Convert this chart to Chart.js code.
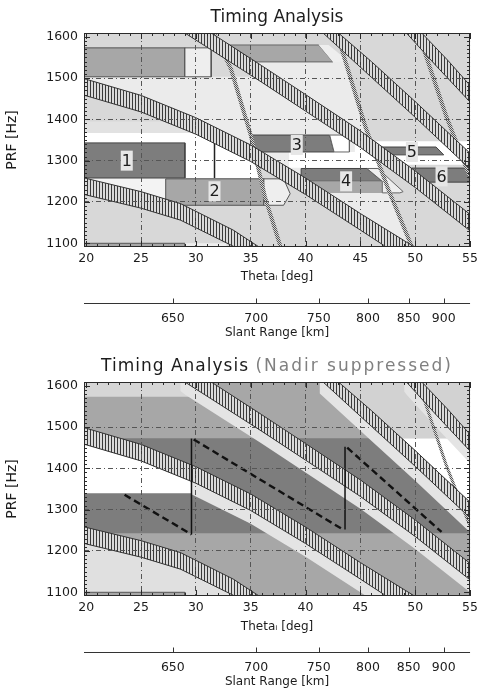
<!DOCTYPE html>
<html>
<head>
<meta charset="utf-8">
<script src="https://cdn.jsdelivr.net/npm/chart.js@4.4.0/dist/chart.umd.min.js"></script>
<style>
  html, body { margin: 0; padding: 0; background: #fff; }
  #wrapTop { position: absolute; left: 0; top: 0; width: 482px; height: 345px; }
  #wrapBot { position: absolute; left: 0; top: 344px; width: 482px; height: 345px; }
</style>
</head>
<body>
<div id="wrapTop"><canvas id="top"></canvas></div>
<div id="wrapBot"><canvas id="bot"></canvas></div>
<script>
'use strict';

/*** AXES ***/

var thetaTicks = [20, 25, 30, 35, 40, 45, 50, 55];
var prfTicks = [1100, 1200, 1300, 1400, 1500, 1600];
var slantTheta = [27.9, 35.5, 41.2, 45.7, 49.4, 52.6];
var slantLabels = ['650', '700', '750', '800', '850', '900'];

/*** TRANSMIT BANDS [theta, PRF] ***/

var bandAUp = [[19, 1265], [20, 1257], [25, 1225], [28.6, 1196], [33.4, 1132], [36.4, 1080]];
var bandALo = [[19, 1225], [20, 1217], [25, 1185], [28.6, 1156], [33.4, 1093], [34.2, 1080]];
var bandBUp = [[19, 1503], [20, 1497], [25, 1458], [30, 1404], [35, 1338], [40, 1258], [45, 1172], [50.6, 1080]];
var bandBLo = [[19, 1463], [20, 1457], [25, 1418], [30, 1364], [35, 1298], [40, 1218], [45, 1132], [48, 1080]];
var bandCUp = [[31.0, 1617], [31.4, 1609], [36, 1530], [40, 1460], [45, 1372], [50, 1275], [55, 1170], [56, 1148]];
var bandCLo = [[28.6, 1617], [29.0, 1609], [36, 1490], [40, 1420], [45, 1332], [50, 1235], [55, 1130], [56, 1108]];
var bandDUp = [[42.7, 1616], [43.0, 1609], [46, 1540], [50, 1443], [55, 1318], [56, 1292]];
var bandDLo = [[41.3, 1616], [41.6, 1609], [46, 1502], [50, 1405], [55, 1280], [56, 1254]];
var bandEUp = [[50.4, 1616], [50.6, 1609], [53, 1542], [55, 1482], [56, 1450]];
var bandELo = [[49.0, 1616], [49.2, 1609], [52, 1527], [55, 1442], [56, 1412]];

/*** NADIR LINES ***/

var nadir1 = [[31.3, 1625], [31.8, 1600], [33.2, 1522], [35.0, 1362], [36.3, 1212], [37.8, 1085]];
var nadir2 = [[42.9, 1612], [43.4, 1561], [45.5, 1379], [47.5, 1234], [49.7, 1091], [49.8, 1085]];
var nadir3 = [[50.4, 1616], [50.9, 1560], [52.8, 1410], [54.7, 1280], [55.2, 1250]];

/*** TOP PANEL REGIONS ***/

var topLighter = [[19, 1395], [28, 1395], [31, 1367], [19, 1367]];
var topVeryLight1 = [[19, 1503], [20, 1497], [25, 1458], [30, 1404], [35, 1338], [40, 1258], [45, 1172], [49.8, 1085],
  [47.5, 1234], [46.6, 1299], [45, 1332], [40, 1420], [36, 1490], [35.2, 1503]];
var topVeryLight2 = [[35.4, 1539], [36, 1530], [40, 1460], [45, 1372], [45.9, 1354], [45.5, 1379], [43.65, 1539]];
var topWhiteStrip = [[19, 1367], [31, 1367], [33, 1343], [19, 1343]];
var topWhiteBeside1 = [[29.0, 1343], [33.3, 1343], [35.3, 1300], [35.8, 1258], [29.0, 1258]];
var topWhiteAbove2 = [[19, 1258], [27.25, 1258], [27.25, 1205], [25, 1225], [20, 1257], [19, 1265]];
var topWhiteMid = [[38.5, 1321], [47, 1321], [47, 1283], [38.5, 1283]];
var topWhiteRight = [[44.5, 1347], [56, 1347], [56, 1290], [44.5, 1290]];

var boxTopLeft = [[19, 1573], [29.0, 1573], [29.0, 1503], [19, 1503]];
var boxTopLeftExt = [[29.0, 1573], [31.4, 1573], [31.4, 1503], [29.0, 1503]];
var boxTopMid = [[32.5, 1580], [41.2, 1580], [42.5, 1539], [34.5, 1539]];
var boxTopMidExt = [[41.2, 1580], [42.1, 1580], [44.0, 1539], [42.5, 1539]];
var box1 = [[19, 1343], [29.0, 1343], [29.0, 1258], [19, 1258]];
var box1Divider = [[31.7, 1343], [31.7, 1258]];
var box2 = [[27.25, 1256], [36.2, 1256], [36.2, 1192], [27.25, 1192]];
var box2Ext = [[36.2, 1256], [38.0, 1256], [38.6, 1220], [38.0, 1192], [36.2, 1192]];
var box3 = [[35.0, 1362], [42.2, 1362], [42.6, 1321], [35.3, 1321]];
var box3Ext = [[42.2, 1362], [44.0, 1362], [44.0, 1321], [42.6, 1321]];
var box4Dark = [[39.6, 1281], [45.6, 1281], [47.0, 1250], [39.6, 1250]];
var box4Mid = [[39.6, 1250], [47.0, 1250], [47.0, 1222], [39.6, 1222]];
var box4Ext = [[45.6, 1281], [46.6, 1281], [48.9, 1225], [48.6, 1222], [47.0, 1222], [47.0, 1250]];
var box5 = [[46.4, 1333], [51.9, 1333], [52.6, 1314], [46.4, 1314]];
var box6 = [[49.7, 1282], [56, 1282], [56, 1248], [49.7, 1248]];
var stripBottom = [[19, 1100], [29.0, 1100], [29.0, 1085], [19, 1085]];
var stripBottomExt = [[29.0, 1100], [32.8, 1100], [32.8, 1085], [29.0, 1085]];

var beamLabels = ['1', '2', '3', '4', '5', '6'];
var beamLabelTheta = [23.7, 31.7, 39.2, 43.7, 49.7, 52.4];
var beamLabelPrf = [1300, 1226, 1338, 1250, 1321, 1262];

/*** BOTTOM PANEL REGIONS ***/

var botLightBelowA = [[19, 1225], [20, 1217], [25, 1185], [28.6, 1156], [33.4, 1093], [34.2, 1080], [19, 1080]];
var botLightTopLeft = [[19, 1620], [29.6, 1620], [29.6, 1573], [19, 1573]];
var botDark = [[19, 1473], [56, 1473], [56, 1243], [19, 1243]];
var botLightTopRight = [[42.7, 1620], [43.0, 1609], [46, 1540], [48.8, 1473], [56, 1473], [56, 1620]];
var botWhiteLeft = [[19, 1463], [20, 1457], [25, 1418], [29.6, 1369], [29.6, 1340], [19, 1340]];
var botWhiteRight = [[48.8, 1473], [50, 1443], [55, 1318], [56, 1292], [56, 1473]];
var stripBelowB = [[29.6, 1369], [30, 1364], [35, 1298], [40, 1218], [45, 1132], [48, 1080],
  [48, 1048], [45, 1100], [40, 1186], [35, 1266], [30, 1332], [29.6, 1337]];
var stripBelowC = [[28.6, 1617], [29.0, 1609], [36, 1490], [40, 1420], [45, 1332], [50, 1235], [55, 1130], [56, 1108],
  [56, 1078], [55, 1100], [50, 1205], [45, 1302], [40, 1390], [36, 1460], [29.0, 1579], [28.6, 1587]];
var stripBelowD = [[41.3, 1616], [41.6, 1609], [46, 1502], [50, 1405], [55, 1280], [56, 1254],
  [56, 1219], [55, 1245], [50, 1370], [46, 1467], [41.6, 1574], [41.3, 1581]];
var stripBelowE = [[49.0, 1616], [49.2, 1609], [52, 1527], [55, 1442], [56, 1412],
  [56, 1382], [55, 1412], [52, 1497], [49.2, 1579], [49.0, 1586]];

var sawDash1 = [[23.5, 1336], [29.6, 1240]];
var sawDash2 = [[29.8, 1470], [43.4, 1252]];
var sawDash3 = [[43.8, 1450], [52.4, 1246]];
var sawJump1 = [[29.6, 1240], [29.6, 1472]];
var sawJump2 = [[43.6, 1252], [43.6, 1452]];

/*** COLOURS ***/

var FONT = '"DejaVu Sans", sans-serif';
var INK = '#1c1c1c';
var LIGHT = '#d8d8d8';
var VLIGHT = '#ebebeb';
var MID = '#a7a7a7';
var DARK = '#7d7d7d';
var EDGE = '#333333';

/*** HELPERS ***/

function pts(list) {
  return list.map(function (p) { return { x: p[0], y: p[1] }; });
}

function closed(list) {
  return pts(list.concat([list[0]]));
}

function area(list, color, edge) {
  return {
    data: closed(list), fill: 'shape', backgroundColor: color,
    borderColor: edge || 'rgba(0,0,0,0)', borderWidth: edge ? 1 : 0,
    pointRadius: 0, tension: 0, clip: 0
  };
}

function band(up, lo, pattern) {
  return {
    data: closed(up.concat(lo.slice().reverse())), fill: 'shape', backgroundColor: pattern,
    borderColor: EDGE, borderWidth: 1, pointRadius: 0, tension: 0, clip: 0
  };
}

function line(list, color, width, dash) {
  return {
    data: pts(list), fill: false, borderColor: color, borderWidth: width,
    borderDash: dash || [], pointRadius: 0, tension: 0, clip: 0
  };
}

// vertical stripes for the transmit bands
function hatch(ctx) {
  var c = document.createElement('canvas');
  c.width = 3; c.height = 3;
  var g = c.getContext('2d');
  g.fillStyle = '#dadada'; g.fillRect(0, 0, 3, 3);
  g.fillStyle = '#3a3a3a'; g.fillRect(0, 0, 1, 3);
  return ctx.createPattern(c, 'repeat');
}

// fine checker for the nadir lines
function dots(ctx) {
  var c = document.createElement('canvas');
  c.width = 2; c.height = 2;
  var g = c.getContext('2d');
  g.fillStyle = '#d4d4d4'; g.fillRect(0, 0, 2, 2);
  g.fillStyle = '#555555'; g.fillRect(0, 0, 1, 1); g.fillRect(1, 1, 1, 1);
  return ctx.createPattern(c, 'repeat');
}

function setOrder(list) {
  list.forEach(function (d, i) { d.order = -i; });
  return list;
}

function gridColor(ctx) {
  var v = ctx.tick ? ctx.tick.value : null;
  return (v === 20 || v === 55 || v === 1100 || v === 1600) ? 'rgba(0,0,0,0)' : '#555555';
}

function decor(opt) {
  return {
    id: 'decor',
    afterDraw: function (chart) {
      var ctx = chart.ctx, a = chart.chartArea;
      var sx = chart.scales.x, sy = chart.scales.y, s2 = chart.scales.x2;
      ctx.save();
      ctx.strokeStyle = '#2a2a2a';
      ctx.lineWidth = 1;
      ctx.strokeRect(Math.round(a.left) + 0.5, Math.round(a.top) + 0.5, Math.round(a.width) - 1, Math.round(a.height) - 1);

      // minor ticks inside the frame
      ctx.beginPath();
      for (var t = 20; t <= 55; t++) {
        var px = Math.round(sx.getPixelForValue(t)) + 0.5;
        var len = t % 5 ? 3 : 6;
        ctx.moveTo(px, a.bottom); ctx.lineTo(px, a.bottom - len);
        ctx.moveTo(px, a.top); ctx.lineTo(px, a.top + len);
      }
      for (var v = 1100; v <= 1600; v += 10) {
        var py = Math.round(sy.getPixelForValue(v)) + 0.5;
        var l2 = v % 100 ? 3 : 6;
        ctx.moveTo(a.left, py); ctx.lineTo(a.left + l2, py);
        ctx.moveTo(a.right, py); ctx.lineTo(a.right - l2, py);
      }
      ctx.stroke();

      // slant range axis line
      var yl = Math.round(s2.top) + 0.5;
      ctx.strokeStyle = '#333';
      ctx.beginPath();
      ctx.moveTo(a.left, yl); ctx.lineTo(a.right, yl);
      s2.ticks.forEach(function (tk) {
        var tx = Math.round(s2.getPixelForValue(tk.value)) + 0.5;
        ctx.moveTo(tx, yl); ctx.lineTo(tx, yl - 5);
      });
      ctx.stroke();

      // beam labels
      if (opt.labels) {
        ctx.font = '16px ' + FONT;
        ctx.textAlign = 'center';
        ctx.textBaseline = 'middle';
        for (var i = 0; i < beamLabels.length; i++) {
          var lx = sx.getPixelForValue(beamLabelTheta[i]);
          var ly = sy.getPixelForValue(beamLabelPrf[i]);
          ctx.fillStyle = '#e6e6e6';
          ctx.fillRect(lx - 6, ly - 10, 12, 20);
          ctx.fillStyle = INK;
          ctx.fillText(beamLabels[i], lx, ly + 1);
        }
      }

      // title
      var cx = (a.left + a.right) / 2;
      ctx.textBaseline = 'middle';
      ctx.font = '17px ' + FONT;
      if (opt.sub) {
        ctx.letterSpacing = '1px';
        var w1 = ctx.measureText(opt.title + ' ').width;
        ctx.letterSpacing = '2px';
        var w2 = ctx.measureText(opt.sub).width;
        var x0 = cx - (w1 + w2) / 2;
        ctx.textAlign = 'left';
        ctx.letterSpacing = '1px';
        ctx.fillStyle = INK;
        ctx.fillText(opt.title, x0, opt.titleY);
        ctx.letterSpacing = '2px';
        ctx.fillStyle = '#808080';
        ctx.fillText(opt.sub, x0 + w1, opt.titleY);
      } else {
        ctx.textAlign = 'center';
        ctx.fillStyle = INK;
        ctx.fillText(opt.title, cx, opt.titleY);
      }
      ctx.restore();
    }
  };
}

function plainNumber(v) {
  return String(v);
}

function makeChart(id, datasets, opt) {
  var tickFont = { family: FONT, size: 12.5 };
  var titleFont = { family: FONT, size: 12 };
  return new Chart(document.getElementById(id), {
    type: 'line',
    data: { datasets: datasets },
    options: {
      responsive: true,
      maintainAspectRatio: false,
      animation: false,
      events: [],
      layout: { padding: { top: opt.padTop, right: opt.padRight, left: 0, bottom: 0 } },
      plugins: {
        legend: { display: false }, tooltip: { enabled: false }, title: { display: false },
        bg: { color: opt.bg }
      },
      scales: {
        x: {
          type: 'linear', min: 19.8, max: 55, position: 'bottom', weight: 0,
          afterBuildTicks: function (s) { s.ticks = thetaTicks.map(function (v) { return { value: v }; }); },
          afterFit: function (s) { s.height = 56; },
          grid: { color: gridColor, lineWidth: 1, drawTicks: false, z: 1 },
          border: { display: false, dash: [5, 3, 1, 3] },
          ticks: { padding: 4, font: tickFont, color: INK, maxRotation: 0, autoSkip: false, callback: plainNumber },
          title: { display: true, text: 'Theta\u1D62 [deg]', font: titleFont, color: INK, padding: { top: 0, bottom: opt.xTitlePad } }
        },
        x2: {
          type: 'linear', min: 19.8, max: 55, position: 'bottom', weight: 1,
          afterBuildTicks: function (s) { s.ticks = slantTheta.map(function (v) { return { value: v }; }); },
          afterFit: function (s) { s.height = opt.x2Height; },
          grid: { display: false, drawTicks: false },
          border: { display: false },
          ticks: {
            padding: 8, font: tickFont, color: INK, maxRotation: 0, autoSkip: false,
            callback: function (v, i) { return slantLabels[i]; }
          },
          title: { display: true, text: 'Slant Range [km]', font: titleFont, color: INK, padding: { top: 0, bottom: opt.x2TitlePad } }
        },
        y: {
          type: 'linear', min: 1091, max: 1609,
          afterBuildTicks: function (s) { s.ticks = prfTicks.map(function (v) { return { value: v }; }); },
          afterFit: function (s) { s.width = 84; },
          grid: { color: gridColor, lineWidth: 1, drawTicks: false, z: 1 },
          border: { display: false, dash: [5, 3, 1, 3] },
          ticks: { padding: 6, font: tickFont, color: INK, callback: plainNumber },
          title: { display: true, text: 'PRF [Hz]', font: { family: FONT, size: 14 }, color: INK, padding: { top: 3.5, bottom: 0 } }
        }
      }
    },
    plugins: [decor(opt)]
  });
}

// chart area background
Chart.register({
  id: 'bg',
  beforeDatasetsDraw: function (chart, args, o) {
    var a = chart.chartArea;
    chart.ctx.save();
    chart.ctx.fillStyle = o.color || '#fff';
    chart.ctx.fillRect(a.left, a.top, a.width, a.height);
    chart.ctx.restore();
  }
});

/*** TOP PANEL ***/

var ctxTop = document.getElementById('top').getContext('2d');
var hatchTop = hatch(ctxTop);
var dotsTop = dots(ctxTop);

var topSets = setOrder([
  area(topLighter, '#e2e2e2'),
  area(topVeryLight1, VLIGHT),
  area(topVeryLight2, VLIGHT),
  area(topWhiteStrip, '#ffffff'),
  area(topWhiteBeside1, '#ffffff'),
  area(topWhiteAbove2, '#f3f3f3'),
  area(topWhiteMid, '#ffffff'),
  area(topWhiteRight, '#ffffff'),
  area(boxTopLeft, MID, '#555'),
  area(boxTopLeftExt, '#eeeeee', '#555'),
  area(boxTopMid, MID, '#666'),
  area(boxTopMidExt, '#eeeeee'),
  area(box1, DARK, '#444'),
  line(box1Divider, '#222', 1.5),
  area(box2, MID, '#555'),
  area(box2Ext, '#eeeeee', '#555'),
  area(box3, DARK, '#444'),
  area(box3Ext, '#ffffff', '#666'),
  area(box4Dark, DARK, '#444'),
  area(box4Mid, MID),
  area(box4Ext, '#eeeeee', '#666'),
  area(box5, DARK, '#444'),
  area(box6, DARK, '#444'),
  area(stripBottom, MID, '#555'),
  area(stripBottomExt, '#eeeeee'),
  line(nadir1, dotsTop, 4),
  line(nadir2, dotsTop, 4),
  line(nadir3, dotsTop, 4),
  band(bandAUp, bandALo, hatchTop),
  band(bandBUp, bandBLo, hatchTop),
  band(bandCUp, bandCLo, hatchTop),
  band(bandDUp, bandDLo, hatchTop),
  band(bandEUp, bandELo, hatchTop)
]);

makeChart('top', topSets, {
  padTop: 33, padRight: 8, xTitlePad: 18.5, x2Height: 42, x2TitlePad: 4.8,
  title: 'Timing Analysis', titleY: 18, labels: true, bg: LIGHT
});

/*** BOTTOM PANEL ***/

var ctxBot = document.getElementById('bot').getContext('2d');
var hatchBot = hatch(ctxBot);
var dotsBot = dots(ctxBot);

var botSets = setOrder([
  area(botLightBelowA, '#e0e0e0'),
  area(botLightTopLeft, '#d6d6d6'),
  area(botDark, DARK),
  area(botLightTopRight, '#d2d2d2'),
  area(botWhiteLeft, '#ffffff'),
  area(botWhiteRight, '#ffffff'),
  area(stripBelowB, '#e4e4e4'),
  area(stripBelowC, '#e4e4e4'),
  area(stripBelowD, '#e4e4e4'),
  area(stripBelowE, '#e4e4e4'),
  area(stripBottom, MID, '#555'),
  line(nadir3, dotsBot, 3),
  band(bandAUp, bandALo, hatchBot),
  band(bandBUp, bandBLo, hatchBot),
  band(bandCUp, bandCLo, hatchBot),
  band(bandDUp, bandDLo, hatchBot),
  band(bandEUp, bandELo, hatchBot),
  line(sawJump1, '#111', 1.5),
  line(sawJump2, '#111', 1.5),
  line(sawDash1, '#111', 2.4, [7, 4]),
  line(sawDash2, '#111', 2.4, [7, 4]),
  line(sawDash3, '#111', 2.4, [7, 4])
]);

makeChart('bot', botSets, {
  padTop: 38, padRight: 10, xTitlePad: 17.5, x2Height: 37, x2TitlePad: 0,
  title: 'Timing Analysis', sub: '(Nadir suppressed)', titleY: 23, labels: false, bg: MID
});
</script>
</body>
</html>
